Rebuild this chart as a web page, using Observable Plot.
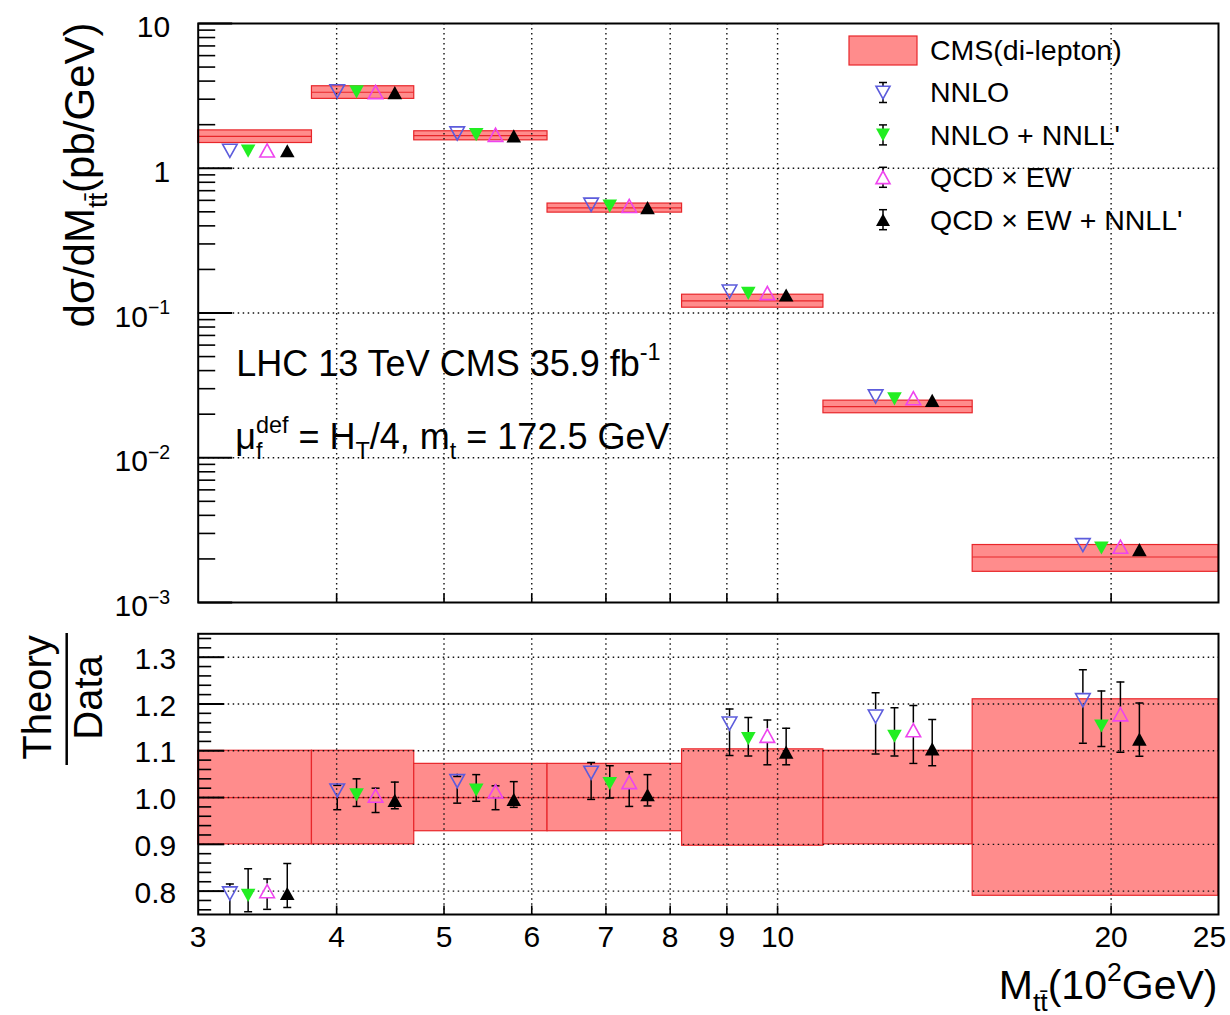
<!DOCTYPE html>
<html><head><meta charset="utf-8">
<script src="https://cdn.jsdelivr.net/npm/d3@7"></script>
<script src="https://cdn.jsdelivr.net/npm/@observablehq/plot@0.6"></script>
<style>
body{margin:0;background:#fff;}
#chart svg{display:block;}
</style></head>
<body><div id="chart"></div>
<script>
// ---------- data ----------
const binLo = [3, 3.8, 4.7, 6.2, 8.2, 11, 15];
const binHi = [3.8, 4.7, 6.2, 8.2, 11, 15, 25];
const cmsValue = [1.66, 3.35, 1.68, 0.532, 0.1213, 0.02255, 0.002062];
const cmsRelErr = [0.10, 0.10, 0.072, 0.072, 0.103, 0.10, 0.21];

const seriesNames = ["NNLO", "NNLO + NNLL'", "QCD × EW", "QCD × EW + NNLL'"];
const seriesColors = ["#5c5cdc", "#22ee22", "#ee44ee", "#000000"];

const nnloX      = [3.204, 4.005, 5.139, 6.788, 9.05, 12.26, 18.86];
const nnloNnllX  = [3.328, 4.169, 5.346, 7.056, 9.41, 12.75, 19.60];
const qcdEwX     = [3.462, 4.337, 5.565, 7.347, 9.79, 13.26, 20.39];
const qcdEwNnllX = [3.610, 4.514, 5.780, 7.632, 10.18, 13.79, 21.21];

const nnloTop      = [1.32, 3.40, 1.74, 0.560, 0.1405, 0.0265, 0.00249];
const nnloNnllTop  = [1.313, 3.37, 1.707, 0.548, 0.1366, 0.0255, 0.00238];
const qcdEwTop     = [1.328, 3.363, 1.702, 0.5496, 0.1373, 0.0258, 0.00243];
const qcdEwNnllTop = [1.32, 3.33, 1.673, 0.535, 0.1331, 0.0249, 0.00232];

const nnloRatio = [0.795, 1.015, 1.035, 1.053, 1.158, 1.173, 1.208];
const nnloLo    = [0.74, 0.974, 0.988, 0.996, 1.090, 1.093, 1.116];
const nnloHi    = [0.815, 1.026, 1.045, 1.075, 1.189, 1.224, 1.273];

const nnloNnllRatio = [0.791, 1.006, 1.016, 1.030, 1.126, 1.131, 1.153];
const nnloNnllLo    = [0.756, 0.981, 0.992, 0.999, 1.089, 1.089, 1.109];
const nnloNnllHi    = [0.848, 1.040, 1.049, 1.068, 1.171, 1.192, 1.228];

const qcdEwRatio = [0.800, 1.004, 1.013, 1.033, 1.132, 1.144, 1.178];
const qcdEwLo    = [0.761, 0.968, 0.974, 0.981, 1.070, 1.073, 1.097];
const qcdEwHi    = [0.826, 1.020, 1.025, 1.055, 1.166, 1.197, 1.247];

const qcdEwNnllRatio = [0.795, 0.994, 0.996, 1.006, 1.097, 1.104, 1.125];
const qcdEwNnllLo    = [0.765, 0.976, 0.979, 0.982, 1.070, 1.068, 1.088];
const qcdEwNnllHi    = [0.859, 1.033, 1.034, 1.049, 1.148, 1.167, 1.202];

const xTickValues = [4, 5, 6, 7, 8, 9, 10, 20];
const xLabelValues = [3, 4, 5, 6, 7, 8, 9, 10, 20, 25];
const yTopTicks = [10, 1, 0.1, 0.01, 0.001];
const yTopLabels = ["10", "1", "10^{−1}", "10^{−2}", "10^{−3}"];
const yRatioTicks = [0.8, 0.9, 1.0, 1.1, 1.2, 1.3];
const yRatioLabels = ["0.8", "0.9", "1.0", "1.1", "1.2", "1.3"];

// ---------- styling ----------
const FONT = '"Liberation Sans", Arial, Helvetica, sans-serif';
const BAND = "#ff8c8c", BANDLINE = "#e8262a";
const W = 1230, ML = 197.7, MR = 12;

const triDown = {draw(c, s){const r=Math.sqrt(s/Math.PI); c.moveTo(-r,-r*0.9); c.lineTo(r,-r*0.9); c.lineTo(0,r*0.9); c.closePath();}};
const triUp   = {draw(c, s){const r=Math.sqrt(s/Math.PI); c.moveTo(-r,r*0.9); c.lineTo(r,r*0.9); c.lineTo(0,-r*0.9); c.closePath();}};
const hTick   = {draw(c, s){const r=Math.sqrt(s/Math.PI); c.moveTo(0,0); c.lineTo(r,0);}};
const vTick   = {draw(c, s){const r=Math.sqrt(s/Math.PI); c.moveTo(0,0); c.lineTo(0,-r);}};
const capSym  = {draw(c, s){const r=Math.sqrt(s/Math.PI); c.moveTo(-r,0); c.lineTo(r,0);}};

const seriesSym = [triDown, triDown, triUp, triUp];
const seriesOpen = [true, false, true, false];
const seriesX = [nnloX, nnloNnllX, qcdEwX, qcdEwNnllX];
const seriesTop = [nnloTop, nnloNnllTop, qcdEwTop, qcdEwNnllTop];
const seriesRatio = [nnloRatio, nnloNnllRatio, qcdEwRatio, qcdEwNnllRatio];
const seriesLo = [nnloLo, nnloNnllLo, qcdEwLo, qcdEwNnllLo];
const seriesHi = [nnloHi, nnloNnllHi, qcdEwHi, qcdEwNnllHi];

const bins = binLo.map((lo, i) => ({lo, hi: binHi[i], v: cmsValue[i], e: cmsRelErr[i]}));
const pts = seriesNames.map((n, s) => seriesX[s].map((x, i) => ({
  x, top: seriesTop[s][i], ratio: seriesRatio[s][i], lo: seriesLo[s][i], hi: seriesHi[s][i]
})));

function markerMarks(s, yKey) {
  const open = seriesOpen[s];
  return Plot.dot(pts[s], {x: "x", y: yKey, symbol: seriesSym[s], r: 7.3,
    fill: open ? "none" : seriesColors[s], stroke: open ? seriesColors[s] : "none", strokeWidth: 1.6});
}

const gridStyle = {stroke: "#111", strokeWidth: 1.4, strokeDasharray: "1.5,3.5"};

const minorTop = [1e-3, 1e-2, 1e-1, 1].flatMap(d => [2,3,4,5,6,7,8,9].map(k => k * d));
const minorRatio = d3.range(38, 68).filter(k => k % 5 !== 0).map(k => k * 0.02);

// ---------- top panel ----------
const topPlot = Plot.plot({
  width: W, height: 615,
  marginLeft: ML, marginRight: MR, marginTop: 23, marginBottom: 13,
  x: {type: "log", domain: [3, 25], axis: null},
  y: {type: "log", domain: [1e-3, 10], axis: null},
  style: {fontFamily: FONT, background: "white", color: "black", overflow: "visible"},
  marks: [
    Plot.rect(bins, {x1: "lo", x2: "hi", y1: d => d.v * (1 - d.e), y2: d => d.v * (1 + d.e), fill: BAND, stroke: BANDLINE, strokeWidth: 1.2}),
    Plot.ruleY(bins, {y: "v", x1: "lo", x2: "hi", stroke: BANDLINE, strokeWidth: 1.2}),
    Plot.ruleY([1, 0.1, 0.01], gridStyle),
    Plot.ruleX(xTickValues, gridStyle),
    Plot.dot(yTopTicks, {y: d => d, frameAnchor: "left", symbol: hTick, r: 34, stroke: "black", strokeWidth: 2}),
    Plot.dot(minorTop, {y: d => d, frameAnchor: "left", symbol: hTick, r: 17, stroke: "black", strokeWidth: 1.6}),
    Plot.dot(xTickValues, {x: d => d, frameAnchor: "bottom", symbol: vTick, r: 9, stroke: "black", strokeWidth: 1.6}),
    ...[0, 1, 2, 3].map(s => markerMarks(s, "top")),
    Plot.text(yTopTicks, {y: d => d, text: (d, i) => yTopLabels[i], frameAnchor: "left", textAnchor: "end", lineAnchor: "middle", dx: -28, dy: 4, fontSize: 30}),
    Plot.text(["dσ/dM_{tt̄}(pb/GeV)"], {text: d => d, frameAnchor: "top-left", rotate: -90, textAnchor: "end", lineAnchor: "bottom", dx: -104, dy: -1, fontSize: 42}),
    Plot.text(["LHC 13 TeV CMS 35.9 fb^{-1}"], {text: d => d, frameAnchor: "top-left", textAnchor: "start", lineAnchor: "bottom", dx: 38, dy: 352, fontSize: 36}),
    Plot.text(["μ_{f}^{def} = H_{T}/4, m_{t} = 172.5 GeV"], {text: d => d, frameAnchor: "top-left", textAnchor: "start", lineAnchor: "bottom", dx: 37, dy: 425, fontSize: 36}),
    Plot.frame({stroke: "black", strokeWidth: 2})
  ]
});

// ---------- ratio panel ----------
const errMarks = [];
for (let s = 0; s < 4; s++) {
  if (seriesOpen[s]) {
    // segments stop at the marker edge so open markers stay empty
    errMarks.push(Plot.ruleX(pts[s], {x: "x", y1: "ratio", y2: "lo", insetTop: 7, stroke: "black", strokeWidth: 1.5, clip: true}));
    errMarks.push(Plot.ruleX(pts[s], {x: "x", y1: "hi", y2: "ratio", insetBottom: 7, stroke: "black", strokeWidth: 1.5, clip: true}));
  } else {
    errMarks.push(Plot.ruleX(pts[s], {x: "x", y1: "lo", y2: "hi", stroke: "black", strokeWidth: 1.5, clip: true}));
  }
  errMarks.push(Plot.dot(pts[s], {x: "x", y: "lo", symbol: capSym, r: 4, stroke: "black", strokeWidth: 1.5, clip: true}));
  errMarks.push(Plot.dot(pts[s], {x: "x", y: "hi", symbol: capSym, r: 4, stroke: "black", strokeWidth: 1.5, clip: true}));
}

const ratioPlot = Plot.plot({
  width: W, height: 400,
  marginLeft: ML, marginRight: MR, marginTop: 18.3, marginBottom: 101,
  x: {type: "log", domain: [3, 25], axis: null},
  y: {domain: [0.75, 1.35], axis: null},
  style: {fontFamily: FONT, background: "white", color: "black", overflow: "visible"},
  marks: [
    Plot.rect(bins, {x1: "lo", x2: "hi", y1: d => 1 - d.e, y2: d => 1 + d.e, fill: BAND, stroke: BANDLINE, strokeWidth: 1.2}),
    Plot.ruleY(bins, {y: () => 1, x1: "lo", x2: "hi", stroke: BANDLINE, strokeWidth: 1.2}),
    Plot.ruleY(yRatioTicks, gridStyle),
    Plot.ruleX(xTickValues, gridStyle),
    Plot.dot(yRatioTicks, {y: d => d, frameAnchor: "left", symbol: hTick, r: 26, stroke: "black", strokeWidth: 2}),
    Plot.dot(minorRatio, {y: d => d, frameAnchor: "left", symbol: hTick, r: 13, stroke: "black", strokeWidth: 1.6}),
    Plot.dot(xTickValues, {x: d => d, frameAnchor: "bottom", symbol: vTick, r: 9, stroke: "black", strokeWidth: 1.6}),
    ...errMarks,
    ...[0, 1, 2, 3].map(s => markerMarks(s, "ratio")),
    Plot.text(yRatioTicks, {y: d => d, text: (d, i) => yRatioLabels[i], frameAnchor: "left", textAnchor: "end", lineAnchor: "middle", dx: -22, dy: 2, fontSize: 30}),
    Plot.text(xLabelValues.filter(d => d !== 25), {x: d => d, text: d => String(d), frameAnchor: "bottom", textAnchor: "middle", lineAnchor: "middle", dy: 23, fontSize: 30}),
    Plot.text(xLabelValues.filter(d => d === 25), {x: d => d, text: d => String(d), frameAnchor: "bottom", textAnchor: "middle", lineAnchor: "middle", dx: -9, dy: 23, fontSize: 30}),
    Plot.text(["Theory"], {text: d => d, frameAnchor: "top-left", rotate: -90, textAnchor: "middle", lineAnchor: "bottom", dx: -147.7, dy: 63.7, fontSize: 40}),
    Plot.text(["Data"], {text: d => d, frameAnchor: "top-left", rotate: -90, textAnchor: "middle", lineAnchor: "bottom", dx: -96, dy: 63.7, fontSize: 40}),
    Plot.text(["M_{tt̄}(10^{2}GeV)"], {text: d => d, frameAnchor: "bottom-right", textAnchor: "end", lineAnchor: "bottom", dx: -1, dy: 84, fontSize: 41}),
    Plot.frame({stroke: "black", strokeWidth: 2})
  ]
});

const chart = document.getElementById("chart");
chart.appendChild(topPlot);
chart.appendChild(ratioPlot);

// ---------- rich text (sub/superscripts) ----------
const NS = "http://www.w3.org/2000/svg";
function richify(svg) {
  svg.querySelectorAll("text").forEach(t => {
    const s = t.textContent;
    if (!/[\^_]\{/.test(s)) return;
    const fs = parseFloat(getComputedStyle(t).fontSize);
    const parts = []; let i = 0, buf = "";
    while (i < s.length) {
      if ((s[i] === "^" || s[i] === "_") && s[i + 1] === "{") {
        if (buf) { parts.push({k: "n", s: buf}); buf = ""; }
        const j = s.indexOf("}", i);
        parts.push({k: s[i] === "^" ? "sup" : "sub", s: s.slice(i + 2, j)});
        i = j + 1;
      } else { buf += s[i]; i++; }
    }
    if (buf) parts.push({k: "n", s: buf});
    t.textContent = "";
    let shift = 0, prevW = 0;
    parts.forEach((p, idx) => {
      const ts = document.createElementNS(NS, "tspan");
      ts.textContent = p.s;
      const target = p.k === "sup" ? -0.42 * fs : p.k === "sub" ? 0.3 * fs : 0;
      ts.setAttribute("dy", target - shift);
      shift = target;
      if (p.k !== "n") ts.setAttribute("font-size", 0.65 * fs);
      if (p.k === "sup" && idx > 0 && parts[idx - 1].k === "sub") ts.setAttribute("dx", -prevW);
      t.appendChild(ts);
      if (p.k === "sub") prevW = ts.getComputedTextLength();
    });
  });
}
richify(topPlot);
richify(ratioPlot);

// ---------- legend ----------
function symPath(sym, r) { const p = d3.path(); sym.draw(p, r * r * Math.PI); return p.toString(); }
const leg = d3.select(topPlot).append("g").attr("font-family", FONT).attr("font-size", 28.5)
  .attr("fill", "black").attr("text-anchor", "start");
leg.append("rect").attr("x", 849).attr("y", 36).attr("width", 68).attr("height", 29)
  .attr("fill", BAND).attr("stroke", BANDLINE).attr("stroke-width", 1.2);
leg.append("text").attr("x", 930).attr("y", 50).attr("dy", "0.35em").text("CMS(di-lepton)");
seriesNames.forEach((name, s) => {
  const cy = 92.5 + s * 42.4, cx = 883;
  const g = leg.append("g");
  g.append("line").attr("x1", cx).attr("x2", cx).attr("y1", cy - 10).attr("y2", cy + 10).attr("stroke", "black").attr("stroke-width", 1.5);
  [cy - 10, cy + 10].forEach(y => g.append("line").attr("x1", cx - 4).attr("x2", cx + 4).attr("y1", y).attr("y2", y).attr("stroke", "black").attr("stroke-width", 1.5));
  g.append("path").attr("transform", `translate(${cx},${cy})`).attr("d", symPath(seriesSym[s], 7))
    .attr("fill", seriesOpen[s] ? "white" : seriesColors[s])
    .attr("stroke", seriesOpen[s] ? seriesColors[s] : "none").attr("stroke-width", 1.6);
  g.append("text").attr("x", 930).attr("y", cy).attr("dy", "0.35em").text(name);
});

// fraction bar of Theory/Data
d3.select(ratioPlot).append("line").attr("x1", 66.7).attr("x2", 66.7).attr("y1", 18).attr("y2", 150)
  .attr("stroke", "black").attr("stroke-width", 2.5);
</script>
</body></html>
